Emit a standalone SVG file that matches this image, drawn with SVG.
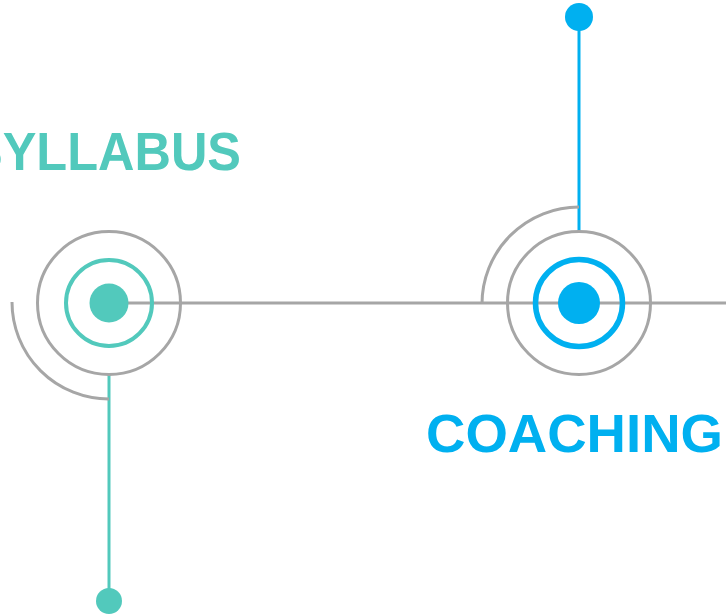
<svg xmlns="http://www.w3.org/2000/svg" width="726" height="615" viewBox="0 0 726 615">
  <style>
    .gray { fill: none; stroke: #a6a6a6; stroke-width: 3; }
    .teal-line { stroke: #52c9bc; stroke-width: 3; fill: none; }
    .blue-line { stroke: #00b0f0; stroke-width: 3; fill: none; }
    .label { font-family: "Liberation Sans", Arial, sans-serif; font-weight: bold; font-size: 53px; }
  </style>
  <rect width="726" height="615" fill="#ffffff"/>
  <g id="connectors">
    <line class="gray" x1="109" y1="303" x2="726" y2="303"/>
    <line class="teal-line" x1="109" y1="375" x2="109" y2="601"/>
    <line class="blue-line" x1="579" y1="231" x2="579" y2="17"/>
  </g>
  <g id="syllabus">
    <path class="gray" d="M 12 302 A 97 97 0 0 0 109 399"/>
    <circle class="gray" cx="109" cy="303" r="71.5"/>
    <circle cx="109" cy="303" r="43" fill="none" stroke="#52c9bc" stroke-width="4"/>
    <circle cx="109" cy="303" r="19.5" fill="#52c9bc"/>
    <circle cx="109" cy="601" r="13" fill="#52c9bc"/>
    <text class="label" x="-31" y="170" fill="#52c9bc" textLength="272" lengthAdjust="spacingAndGlyphs">SYLLABUS</text>
  </g>
  <g id="coaching">
    <path class="gray" d="M 482 304 A 97 97 0 0 1 579 207"/>
    <circle class="gray" cx="579" cy="303" r="71.5"/>
    <circle cx="579" cy="303" r="43.5" fill="none" stroke="#00b0f0" stroke-width="5.5"/>
    <circle cx="579" cy="303" r="21" fill="#00b0f0"/>
    <circle cx="579" cy="17" r="14" fill="#00b0f0"/>
    <text class="label" x="426" y="452" fill="#00b0f0" textLength="297" lengthAdjust="spacingAndGlyphs">COACHING</text>
  </g>
</svg>
